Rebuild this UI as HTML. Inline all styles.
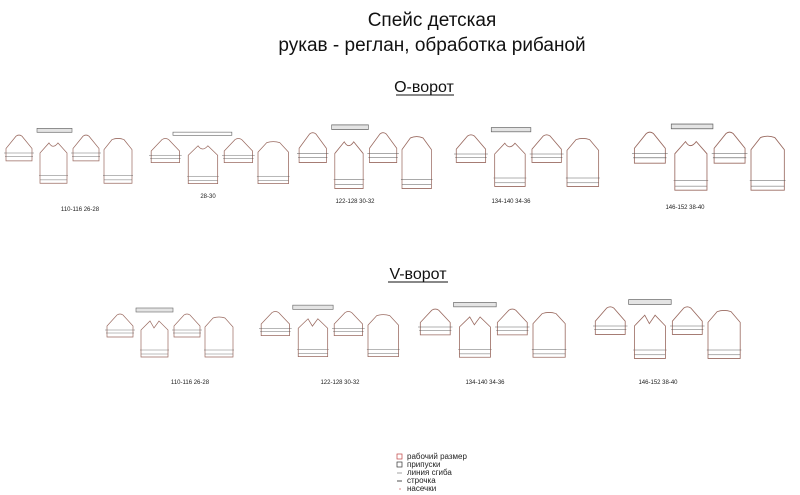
<!DOCTYPE html>
<html><head><meta charset="utf-8"><style>
html,body{margin:0;padding:0;background:#fff;}
svg{display:block;font-family:"Liberation Sans",sans-serif;}
</style></head><body>
<svg width="800" height="495" viewBox="0 0 800 495" xmlns="http://www.w3.org/2000/svg">
<defs>
<g id="sl" fill="none" stroke="#9a6a60" stroke-width="0.7">
 <path d="M2,32 L2,21 L12,10 Q15,8 18,10 L28,21 L28,32 Z"/>
 <line x1="0" y1="25" x2="30" y2="25" stroke="#555" stroke-width="0.4"/>
 <line x1="1" y1="28" x2="29" y2="28" stroke="#555" stroke-width="0.4"/>
</g>
<g id="bk">
 <path d="M100,52 L100,22 L108,13 Q114,11 120,13 L128,22 L128,52 Z" fill="none" stroke="#9a6a60" stroke-width="0.7"/>
 <line x1="99" y1="45" x2="129" y2="45" stroke="#555" stroke-width="0.4"/>
 <line x1="100" y1="49" x2="128" y2="49" stroke="#555" stroke-width="0.4"/>
 <line x1="35" y1="45" x2="64" y2="45" stroke="#555" stroke-width="0.4"/>
 <line x1="36" y1="49" x2="63" y2="49" stroke="#555" stroke-width="0.4"/>
 <use href="#sl" x="0" y="0"/>
 <use href="#sl" x="67" y="0"/>
</g>
<g id="setO">
 <rect x="33" y="3" width="35" height="3.5" fill="#e4e4e4" stroke="#666" stroke-width="0.6"/>
 <use href="#bk"/>
 <path d="M36,52 L36,25 L45,16 Q49,22 54,16 L63,25 L63,52 Z" fill="none" stroke="#9a6a60" stroke-width="0.7"/>
</g>
<g id="setO2">
 <rect x="22" y="3" width="54" height="3" fill="#fff" stroke="#666" stroke-width="0.6"/>
 <use href="#bk"/>
 <path d="M36,52 L36,25 L45,16 Q49,22 54,16 L63,25 L63,52 Z" fill="none" stroke="#9a6a60" stroke-width="0.7"/>
</g>
<g id="setV">
 <rect x="31" y="3" width="37" height="4" fill="#e4e4e4" stroke="#666" stroke-width="0.6"/>
 <use href="#bk"/>
 <path d="M36,52 L36,25 L45,16 L49,23 L54,16 L63,25 L63,52 Z" fill="none" stroke="#9a6a60" stroke-width="0.7"/>
</g>
</defs>
<text x="432" y="26" font-size="19" text-anchor="middle" fill="#111">Спейс детская</text>
<text x="432" y="51" font-size="19" text-anchor="middle" fill="#111">рукав - реглан, обработка рибаной</text>
<text x="424" y="92" font-size="16" text-anchor="middle" fill="#111">О-ворот</text>
<line x1="396" y1="95" x2="454" y2="95" stroke="#111" stroke-width="1"/>
<text x="418" y="279" font-size="16" text-anchor="middle" fill="#111">V-ворот</text>
<line x1="388" y1="282" x2="448" y2="282" stroke="#111" stroke-width="1"/>

<use href="#setO" transform="translate(4,125) scale(1.0,1.12)"/>
<use href="#setO2" transform="translate(149,129) scale(1.09,1.05)"/>
<use href="#setO" transform="translate(297,121) scale(1.05,1.3)"/>
<use href="#setO" transform="translate(454,124) scale(1.13,1.2)"/>
<use href="#setO" transform="translate(632,120) scale(1.19,1.35)"/>
<text x="80" y="211" font-size="6" text-anchor="middle" fill="#222">110-116 26-28</text>
<text x="208" y="198" font-size="6" text-anchor="middle" fill="#222">28-30</text>
<text x="355" y="203" font-size="6" text-anchor="middle" fill="#222">122-128 30-32</text>
<text x="511" y="203" font-size="6" text-anchor="middle" fill="#222">134-140 34-36</text>
<text x="685" y="209" font-size="6" text-anchor="middle" fill="#222">146-152 38-40</text>

<use href="#setV" transform="translate(105,305) scale(1.0,1.0)"/>
<use href="#setV" transform="translate(259,302) scale(1.09,1.05)"/>
<use href="#setV" transform="translate(418,299) scale(1.15,1.12)"/>
<use href="#setV" transform="translate(593,296) scale(1.15,1.2)"/>
<text x="190" y="384" font-size="6" text-anchor="middle" fill="#222">110-116 26-28</text>
<text x="340" y="384" font-size="6" text-anchor="middle" fill="#222">122-128 30-32</text>
<text x="485" y="384" font-size="6" text-anchor="middle" fill="#222">134-140 34-36</text>
<text x="658" y="384" font-size="6" text-anchor="middle" fill="#222">146-152 38-40</text>

<rect x="397" y="454" width="5" height="5" fill="none" stroke="#c04040" stroke-width="0.7"/>
<rect x="397" y="462" width="5" height="5" fill="none" stroke="#333" stroke-width="0.7"/>
<line x1="397" y1="473" x2="402" y2="473" stroke="#666" stroke-width="0.6"/>
<line x1="397" y1="481" x2="402" y2="481" stroke="#222" stroke-width="0.8"/>
<line x1="399" y1="489" x2="401" y2="489" stroke="#c04040" stroke-width="0.6"/>
<g font-size="8" fill="#222">
<text x="407" y="459">рабочий размер</text>
<text x="407" y="467">припуски</text>
<text x="407" y="475">линия сгиба</text>
<text x="407" y="483">строчка</text>
<text x="407" y="491">насечки</text>
</g>
</svg>
</body></html>
